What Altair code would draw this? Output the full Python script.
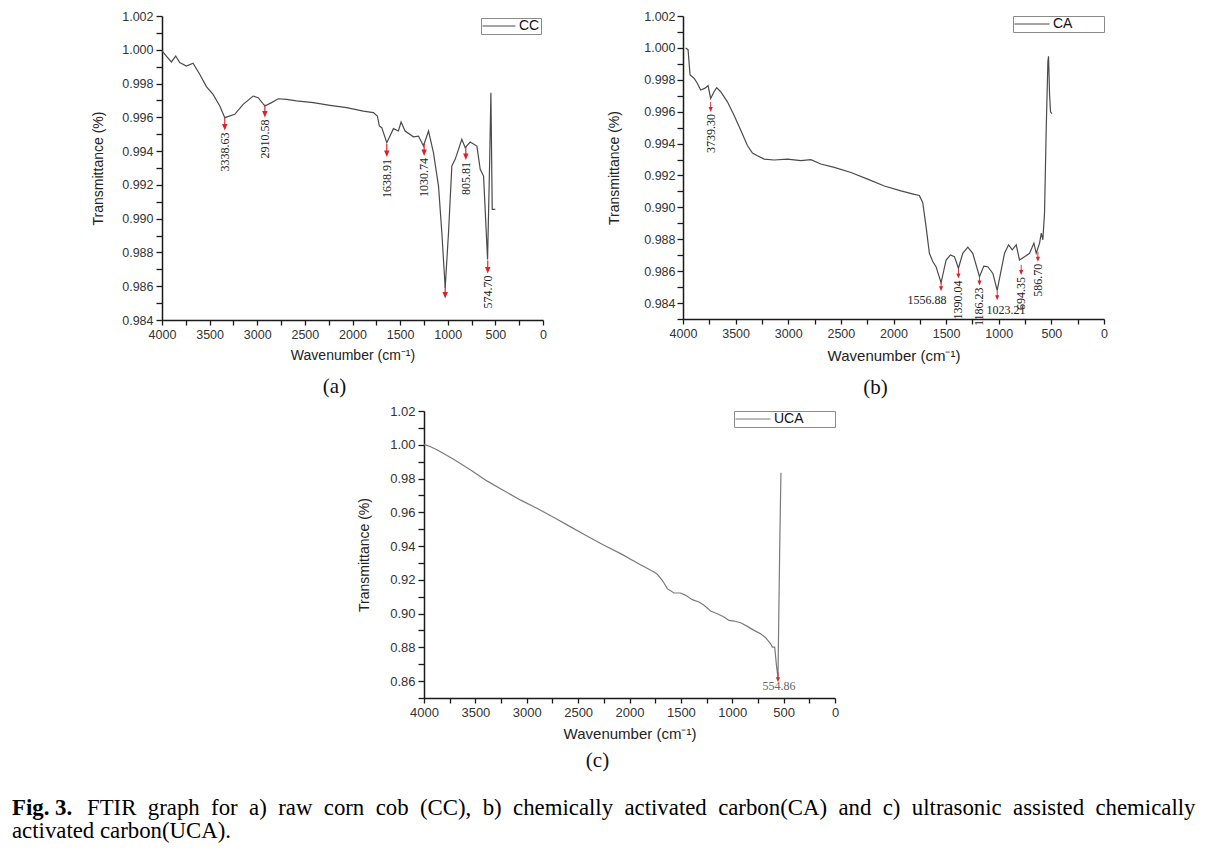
import altair as alt
import pandas as pd

# ---------------- Panel (a): raw corn cob (CC) ----------------
cc_wn = [4000, 3954, 3902, 3856, 3814, 3744, 3674, 3604, 3534, 3464, 3393, 3341,
         3236, 3148, 3043, 2990, 2920, 2850, 2780, 2692, 2587, 2412, 2236, 2061,
         1886, 1781, 1739, 1718, 1693, 1640, 1570, 1518, 1490, 1448, 1360, 1307,
         1255, 1202, 1150, 1097, 1062, 1027, 992, 957, 922, 852, 817, 764, 694,
         659, 624, 582, 561, 547, 533, 501]
cc_t = [0.99993, 0.99963, 0.99928, 0.99963, 0.99924, 0.99904, 0.99920, 0.99855,
        0.99782, 0.99736, 0.99667, 0.99598, 0.99618, 0.99677, 0.99726, 0.99716,
        0.99667, 0.99687, 0.99710, 0.99706, 0.99697, 0.99687, 0.99671, 0.99657,
        0.99637, 0.99628, 0.99608, 0.99549, 0.99539, 0.99450, 0.99533, 0.99519,
        0.99572, 0.99519, 0.99485, 0.99489, 0.99430, 0.99519, 0.99391, 0.99193,
        0.98917, 0.98591, 0.98917, 0.99312, 0.99351, 0.99470, 0.99420, 0.99454,
        0.99430, 0.99292, 0.99252, 0.98759, 0.99312, 0.99746, 0.99055, 0.99055]
cc_arrow_wn = [3341, 2920, 1640, 1248, 1027, 810, 580]
cc_arrow_t = [0.99561, 0.99638, 0.99404, 0.99410, 0.98566, 0.99386, 0.98714]
cc_arrow_lab = ["3338.63", "2910.58", "1638.91", "1030.74", "", "805.81", "574.70"]

# ---------------- Panel (b): chemically activated carbon (CA) ----------------
ca_wn = [3975, 3952, 3933, 3895, 3864, 3832, 3794, 3762, 3737, 3705, 3680, 3642,
         3578, 3515, 3451, 3388, 3340, 3293, 3229, 3134, 3007, 2880, 2785, 2690,
         2563, 2404, 2246, 2087, 1929, 1802, 1754, 1722, 1691, 1659, 1627, 1596,
         1548, 1500, 1459, 1421, 1383, 1342, 1294, 1247, 1183, 1142, 1104, 1056,
         1015, 977, 945, 907, 872, 834, 803, 755, 707, 666, 644, 612, 596, 581,
         565, 549, 533, 527, 517, 508, 495]
ca_t = [0.99999, 0.99989, 0.99831, 0.99810, 0.99778, 0.99736, 0.99746, 0.99763,
        0.99683, 0.99725, 0.99751, 0.99725, 0.99662, 0.99578, 0.99483, 0.99388,
        0.99341, 0.99324, 0.99303, 0.99297, 0.99303, 0.99293, 0.99299, 0.99272,
        0.99251, 0.99219, 0.99177, 0.99134, 0.99103, 0.99082, 0.99075, 0.99029,
        0.98881, 0.98712, 0.98660, 0.98628, 0.98527, 0.98670, 0.98702, 0.98691,
        0.98618, 0.98712, 0.98750, 0.98712, 0.98565, 0.98632, 0.98628, 0.98586,
        0.98480, 0.98607, 0.98712, 0.98765, 0.98734, 0.98765, 0.98670, 0.98691,
        0.98712, 0.98776, 0.98712, 0.98776, 0.98839, 0.98797, 0.98966, 0.99493,
        0.99915, 0.99947, 0.99704, 0.99599, 0.99588]
ca_arrow_wn = [3737, 1548, 1383, 1183, 1015, 787, 628]
ca_arrow_t = [0.99630, 0.98506, 0.98586, 0.98542, 0.98449, 0.98607, 0.98691]
ca_arrow_lab = ["3739.30", "", "1390.04", "1186.23", "", "694.35", "586.70"]
ca_hlab_wn = [1681, 930]
ca_hlab_t = [0.98417, 0.98354]
ca_hlab = ["1556.88", "1023.21"]

# ---------------- Panel (c): ultrasonic assisted activated carbon (UCA) ----------------
uca_wn = [4000, 3935, 3870, 3708, 3546, 3384, 3221, 3059, 2897, 2735, 2573, 2410,
          2248, 2086, 1924, 1762, 1729, 1681, 1632, 1567, 1502, 1453, 1389, 1324,
          1275, 1210, 1145, 1080, 1032, 983, 918, 853, 788, 724, 675, 626, 610,
          587, 568, 555, 545, 536, 526]
uca_t = [1.0002, 0.99884, 0.99686, 0.99132, 0.98499, 0.97846, 0.97273, 0.96719,
         0.96224, 0.95690, 0.95136, 0.94582, 0.94048, 0.93553, 0.92999, 0.92466,
         0.92327, 0.91971, 0.91476, 0.91220, 0.91220, 0.91081, 0.90825, 0.90686,
         0.90488, 0.90152, 0.89994, 0.89796, 0.89598, 0.89559, 0.89460, 0.89242,
         0.89005, 0.88807, 0.88570, 0.88213, 0.88016, 0.88016, 0.86829, 0.86236,
         0.90784, 0.94741, 0.98341]
uca_arrow_wn = [555]
uca_arrow_t = [0.86235]
uca_hlab_wn = [545]
uca_hlab_t = [0.85682]
uca_hlab = ["554.86"]

# ---------------- ticks ----------------
x_ticks = [0, 250, 500, 750, 1000, 1250, 1500, 1750, 2000, 2250, 2500, 2750, 3000,
           3250, 3500, 3750, 4000]
a_y_ticks = [0.984, 0.985, 0.986, 0.987, 0.988, 0.989, 0.990, 0.991, 0.992, 0.993,
             0.994, 0.995, 0.996, 0.997, 0.998, 0.999, 1.000, 1.001, 1.002]
b_y_ticks = [0.983] + a_y_ticks
c_y_ticks = [0.85, 0.86, 0.87, 0.88, 0.89, 0.90, 0.91, 0.92, 0.93, 0.94, 0.95,
             0.96, 0.97, 0.98, 0.99, 1.00, 1.01, 1.02]

caption_bold = "Fig.\u00a03."
caption_line1 = ("FTIR graph for a) raw corn cob (CC), b) chemically activated "
                 "carbon(CA) and c) ultrasonic assisted chemically")
caption_line2 = "activated carbon(UCA)."

ARROW = "M-0.09,-1L0.09,-1L0.09,0L0.42,0L0,1L-0.42,0L-0.09,0Z"
RED = "#d8232a"
SANS = "Liberation Sans"
SERIF = "Liberation Serif"
BLANK = "\u2800"


def make_panel(wn, t, name, ydom, yticks, ylabexpr, arrows, hlabels, *,
               w, h, lab_fs, title_fs, xt_fs, ytpad, xtpad, ylpad,
               line_color, sym_len, extra_sp, leg_offset, arrow_px, panel_title,
               title_dx, title_offset, hlab_color="#222"):
    df = pd.DataFrame({"wn": wn, "t": t, "s": name, "i": list(range(len(wn)))})
    xaxis = alt.Axis(values=x_ticks,
                     labelExpr="datum.value % 500 == 0 ? format(datum.value, 'd') : ''",
                     title="Wavenumber (cm\u207b\u00b9)", grid=False,
                     domainColor="#1a1a1a", domainWidth=1.5, tickColor="#1a1a1a",
                     tickWidth=1.3, tickSize=5, labelPadding=3, labelFont=SANS,
                     labelFontSize=lab_fs, labelColor="#333", labelFlush=False,
                     labelOverlap=False, titleFont=SANS, titleFontSize=xt_fs,
                     titleFontWeight="normal", titleColor="#222", titlePadding=xtpad)
    yaxis = alt.Axis(values=yticks, labelExpr=ylabexpr, title="Transmittance (%)",
                     grid=False, domainColor="#1a1a1a", domainWidth=1.5,
                     tickColor="#1a1a1a", tickWidth=1.3, tickSize=6,
                     labelPadding=ylpad, labelFont=SANS, labelFontSize=lab_fs,
                     labelColor="#333", labelFlush=False, labelOverlap=False,
                     titleFont=SANS, titleFontSize=title_fs, titleFontWeight="normal",
                     titleColor="#222", titlePadding=ytpad)
    X = alt.X("wn:Q", title="Wavenumber (cm\u207b\u00b9)",
              scale=alt.Scale(domain=[0, 4000], reverse=True, nice=False, zero=False),
              axis=xaxis)
    Y = alt.Y("t:Q", title="Transmittance (%)",
              scale=alt.Scale(domain=ydom, nice=False, zero=False), axis=yaxis)
    pad = BLANK * extra_sp
    legend = alt.Legend(title=None, orient="top-right", offset=leg_offset,
                        symbolType="stroke", symbolSize=sym_len * sym_len,
                        symbolStrokeWidth=1, clipHeight=14, labelFont=SANS,
                        labelFontSize=14, labelColor="#111", labelOffset=3,
                        strokeColor="#8a8a8a", fillColor="white", padding=1,
                        labelExpr="datum.label + '" + pad + "'")
    line = alt.Chart(df).mark_line(strokeWidth=1.2).encode(
        x=X, y=Y,
        color=alt.Color("s:N", scale=alt.Scale(domain=[name], range=[line_color]),
                        legend=legend),
        order="i:Q")
    awn, at, alab = arrows
    adf = pd.DataFrame({"wn": awn, "t": at, "lab": alab})
    arr = alt.Chart(adf).mark_point(shape=ARROW, filled=True, color=RED, opacity=1,
                                    size=arrow_px * arrow_px, strokeWidth=0).encode(x=X, y=Y)
    rlab = alt.Chart(adf).mark_text(angle=270, align="right", baseline="middle",
                                    dx=-(arrow_px / 2 + 2), font=SERIF, fontSize=12,
                                    color="#222").encode(x=X, y=Y, text="lab:N")
    layers = [line, arr, rlab]
    if hlabels is not None:
        hwn, ht, hl = hlabels
        hdf = pd.DataFrame({"wn": hwn, "t": ht, "lab": hl})
        layers.append(alt.Chart(hdf).mark_text(align="center", baseline="middle",
                                               font=SERIF, fontSize=12,
                                               color=hlab_color).encode(
            x=X, y=Y, text="lab:N"))
    return alt.layer(*layers).properties(
        width=w, height=h,
        title=alt.TitleParams(panel_title, orient="bottom", font=SERIF, fontSize=21,
                              fontWeight="normal", color="#111", anchor="middle",
                              frame="group", dx=title_dx, offset=title_offset))


pa = make_panel(cc_wn, cc_t, "CC", [0.984, 1.002], a_y_ticks,
                "round(datum.value*1000) % 2 == 0 ? format(datum.value, '.3f') : ''",
                (cc_arrow_wn, cc_arrow_t, cc_arrow_lab), None,
                w=381, h=304, lab_fs=12.5, title_fs=14, xt_fs=14, ytpad=16, xtpad=8,
                ylpad=3, line_color="#4a4a4a", sym_len=33, extra_sp=0, leg_offset=2,
                arrow_px=13, panel_title="(a)", title_dx=-18, title_offset=13)
pb = make_panel(ca_wn, ca_t, "CA", [0.983, 1.002], b_y_ticks,
                "round(datum.value*1000) % 2 == 0 ? format(datum.value, '.3f') : ''",
                (ca_arrow_wn, ca_arrow_t, ca_arrow_lab), (ca_hlab_wn, ca_hlab_t, ca_hlab),
                w=421, h=303, lab_fs=12.5, title_fs=14, xt_fs=15, ytpad=22, xtpad=9,
                ylpad=2, line_color="#4a4a4a", sym_len=35, extra_sp=3, leg_offset=0,
                arrow_px=10, panel_title="(b)", title_dx=-18, title_offset=13)
pc = make_panel(uca_wn, uca_t, "UCA", [0.85, 1.02], c_y_ticks,
                "round(datum.value*100) % 2 == 0 ? format(datum.value, '.2f') : ''",
                (uca_arrow_wn, uca_arrow_t, [""]), (uca_hlab_wn, uca_hlab_t, uca_hlab),
                w=411, h=287, lab_fs=13, title_fs=14, xt_fs=15, ytpad=18, xtpad=7,
                ylpad=3, line_color="#7a7a7a", sym_len=35, extra_sp=3, leg_offset=0,
                arrow_px=10, panel_title="(c)", title_dx=-32, title_offset=9,
                hlab_color="#666")

# empty cell that indents panel (c) under the centre of the figure
indent = alt.Chart(pd.DataFrame({"v": [0]})).mark_point(opacity=0).encode(
    x=alt.value(0), y=alt.value(0)).properties(width=195, height=1)
row2 = alt.hconcat(indent, pc, spacing=0).resolve_scale(color="independent").resolve_legend(
    color="independent")

cap_df = pd.DataFrame({"a": [caption_bold], "b": [caption_line1.replace(" ", "\u2002")],
                       "c": [caption_line2]})
cbase = alt.Chart(cap_df)
CAP_FS = 22.8
cap = alt.layer(
    cbase.mark_text(align="left", baseline="alphabetic", font=SERIF, fontSize=CAP_FS,
                    fontWeight="bold", color="#000").encode(
        text="a:N", x=alt.value(-150), y=alt.value(37)),
    cbase.mark_text(align="left", baseline="alphabetic", font=SERIF, fontSize=CAP_FS,
                    color="#000").encode(text="b:N", x=alt.value(-75), y=alt.value(37)),
    cbase.mark_text(align="left", baseline="alphabetic", font=SERIF, fontSize=CAP_FS,
                    color="#000").encode(text="c:N", x=alt.value(-150), y=alt.value(60)),
).properties(width=1000, height=64)

row1 = alt.hconcat(pa, pb, spacing=60).resolve_scale(color="independent").resolve_legend(
    color="independent")
chart = alt.vconcat(row1, row2, cap, spacing=7).resolve_scale(
    color="independent").resolve_legend(color="independent").properties(
    padding={"left": 4, "top": 2, "right": 0, "bottom": 0},
    background="white").configure_view(stroke=None)

chart.save("out.html", embed_options={"renderer": "svg", "actions": False})
